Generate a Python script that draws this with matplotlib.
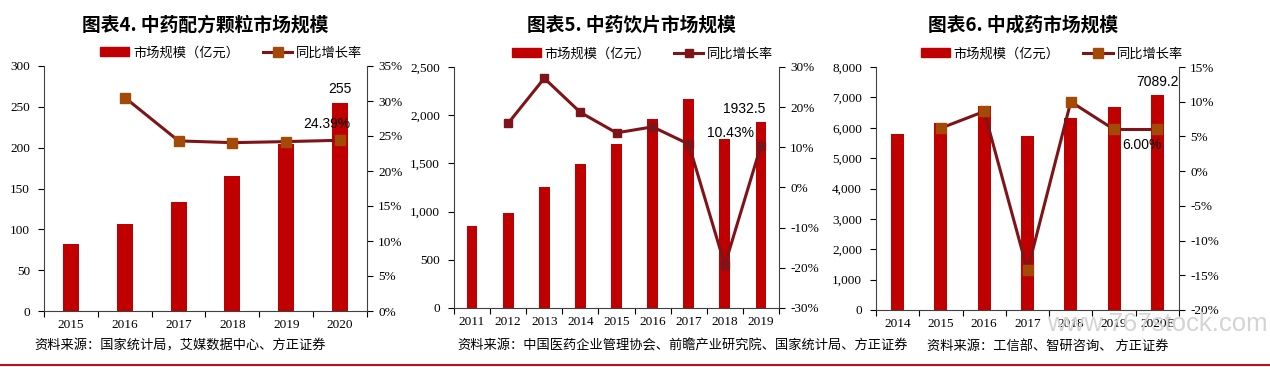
import matplotlib
matplotlib.use('Agg')
import matplotlib.pyplot as plt
from matplotlib.lines import Line2D
from matplotlib.patches import Patch
from matplotlib.ticker import FuncFormatter, FixedLocator
import numpy as np

plt.rcParams['font.family'] = ['Noto Sans CJK SC', 'DejaVu Sans']

# chart 4: 中药配方颗粒
years1 = ['2015', '2016', '2017', '2018', '2019', '2020']
size1 = [82, 107, 133, 165, 205, 255]
growth1 = [np.nan, 30.5, 24.3, 24.05, 24.2, 24.39]

# chart 5: 中药饮片
years2 = ['2011', '2012', '2013', '2014', '2015', '2016', '2017', '2018', '2019']
size2 = [854, 989, 1259, 1497, 1701, 1957, 2168, 1750, 1932.5]
growth2 = [np.nan, 16.0, 27.2, 18.7, 13.6, 15.1, 10.8, -19.3, 10.43]

# chart 6: 中成药
years3 = ['2014', '2015', '2016', '2017', '2018', '2019', '2020E']
size3 = [5809, 6162, 6700, 5733, 6316, 6680, 7089.2]
growth3 = [np.nan, 6.2, 8.6, -14.3, 10.0, 6.0, 6.0]

bar_c = '#C00000'
line_c = '#7F1418'
serif = 'Liberation Serif'

W, H = 1270, 367
fig = plt.figure(figsize=(W / 100, H / 100), dpi=100)


def px_box(l, r, t, b):
    return [l / W, 1 - b / H, (r - l) / W, (b - t) / H]


def panel(box, years, size, growth, ylim, yticks, rlim, rticks, mk_c, ms,
          title, title_x, source, source_x, bar_lab, bar_off, pct_lab, pct_off,
          thousands=False):
    ax = fig.add_axes(box)
    x = np.arange(len(years))
    ax.bar(x, size, width=0.3, color=bar_c, zorder=2)
    ax.set_xlim(-0.5, len(years) - 0.5)
    ax.set_ylim(*ylim)
    ax.set_yticks(yticks)
    if thousands:
        ax.yaxis.set_major_formatter(FuncFormatter(lambda v, p: f'{v:,.0f}'))
    ax.set_xticks(x)
    ax.set_xticklabels(years)
    ax.xaxis.set_minor_locator(FixedLocator(np.arange(-0.5, len(years), 1.0)))
    ax.tick_params(axis='x', which='major', length=0, pad=6)
    ax.tick_params(axis='x', which='minor', length=4, direction='out', width=0.8)
    ax.tick_params(axis='y', length=4, direction='out', width=0.8, pad=6)
    for lab in ax.get_xticklabels() + ax.get_yticklabels():
        lab.set_family(serif)
        lab.set_fontsize(9.5)
    for s in ['top', 'right']:
        ax.spines[s].set_visible(False)
    for s in ['left', 'bottom']:
        ax.spines[s].set_color('#404040')
        ax.spines[s].set_linewidth(0.8)

    ax2 = ax.twinx()
    ax2.plot(x, growth, color=line_c, lw=2.2, marker='s', ms=ms,
             mfc=mk_c, mec=mk_c, zorder=3)
    ax2.set_ylim(*rlim)
    ax2.set_yticks(rticks)
    ax2.yaxis.set_major_formatter(FuncFormatter(lambda v, p: f'{v:.0f}%'))
    ax2.tick_params(axis='y', length=4, direction='out', width=0.8, pad=4)
    for lab in ax2.get_yticklabels():
        lab.set_family(serif)
        lab.set_fontsize(9.5)
    for s in ['top', 'left', 'bottom']:
        ax2.spines[s].set_visible(False)
    ax2.spines['right'].set_color('#404040')
    ax2.spines['right'].set_linewidth(0.8)

    n = len(years) - 1
    ax.annotate(bar_lab, (x[n], size[n]), xytext=bar_off, textcoords='offset pixels',
                ha='center', va='center', fontsize=10, family='Liberation Sans')
    ax2.annotate(pct_lab, (x[n], growth[n]), xytext=pct_off, textcoords='offset pixels',
                 ha='center', va='center', fontsize=10, family='Liberation Sans')

    handles = [Patch(color=bar_c),
               Line2D([], [], color=line_c, lw=2.2, marker='s', ms=ms, mfc=mk_c, mec=mk_c)]
    ax.legend(handles, ['市场规模（亿元）', '同比增长率'], ncol=2, frameon=False,
              loc='lower center', bbox_to_anchor=(0.58, 1.0), fontsize=9.5,
              handlelength=2.2, handletextpad=0.3, columnspacing=1.8,
              borderaxespad=0.1)

    fig.text(title_x / W, 1 - 25 / H, title, ha='center', va='center',
             fontsize=13.5, fontweight='bold')
    fig.text(source_x / W, 1 - 346 / H, source, ha='left', va='center', fontsize=9.5)
    return ax, ax2


panel(px_box(44, 367, 66, 311), years1, size1, growth1,
      (0, 300), range(0, 301, 50), (0, 35), range(0, 36, 5), '#A34A06', 6.5,
      '图表4. 中药配方颗粒市场规模', 205,
      '资料来源：国家统计局，艾媒数据中心、方正证券', 34,
      '255', (0, 14), '24.39%', (-13, 16))

panel(px_box(454, 779, 67, 308), years2, size2, growth2,
      (0, 2500), range(0, 2501, 500), (-30, 30), range(-30, 31, 10), line_c, 5.5,
      '图表5. 中药饮片市场规模', 631,
      '资料来源：中国医药企业管理协会、前瞻产业研究院、国家统计局、方正证券', 457,
      '1932.5', (-17, 13), '10.43%', (-30, 13), thousands=True)

panel(px_box(876, 1179, 67, 310), years3, size3, growth3,
      (0, 8000), range(0, 8001, 1000), (-20, 15), range(-20, 16, 5), '#A34A06', 6.5,
      '图表6. 中成药市场规模', 1023,
      '资料来源：工信部、智研咨询、 方正证券', 927,
      '7089.2', (0, 13), '6.00%', (-15, -16), thousands=True)

# watermark
fig.text(1157 / W, 1 - 324 / H, 'www.767stock.com', ha='center', va='center',
         fontsize=18.5, color='#d4d4d4', family='Liberation Sans', zorder=0)

# red rule at the bottom
fig.add_artist(Line2D([0, 1], [1 - 365 / H, 1 - 365 / H], color='#C0101F', lw=1.5))

fig.savefig('out.png', dpi=100, facecolor='white')
